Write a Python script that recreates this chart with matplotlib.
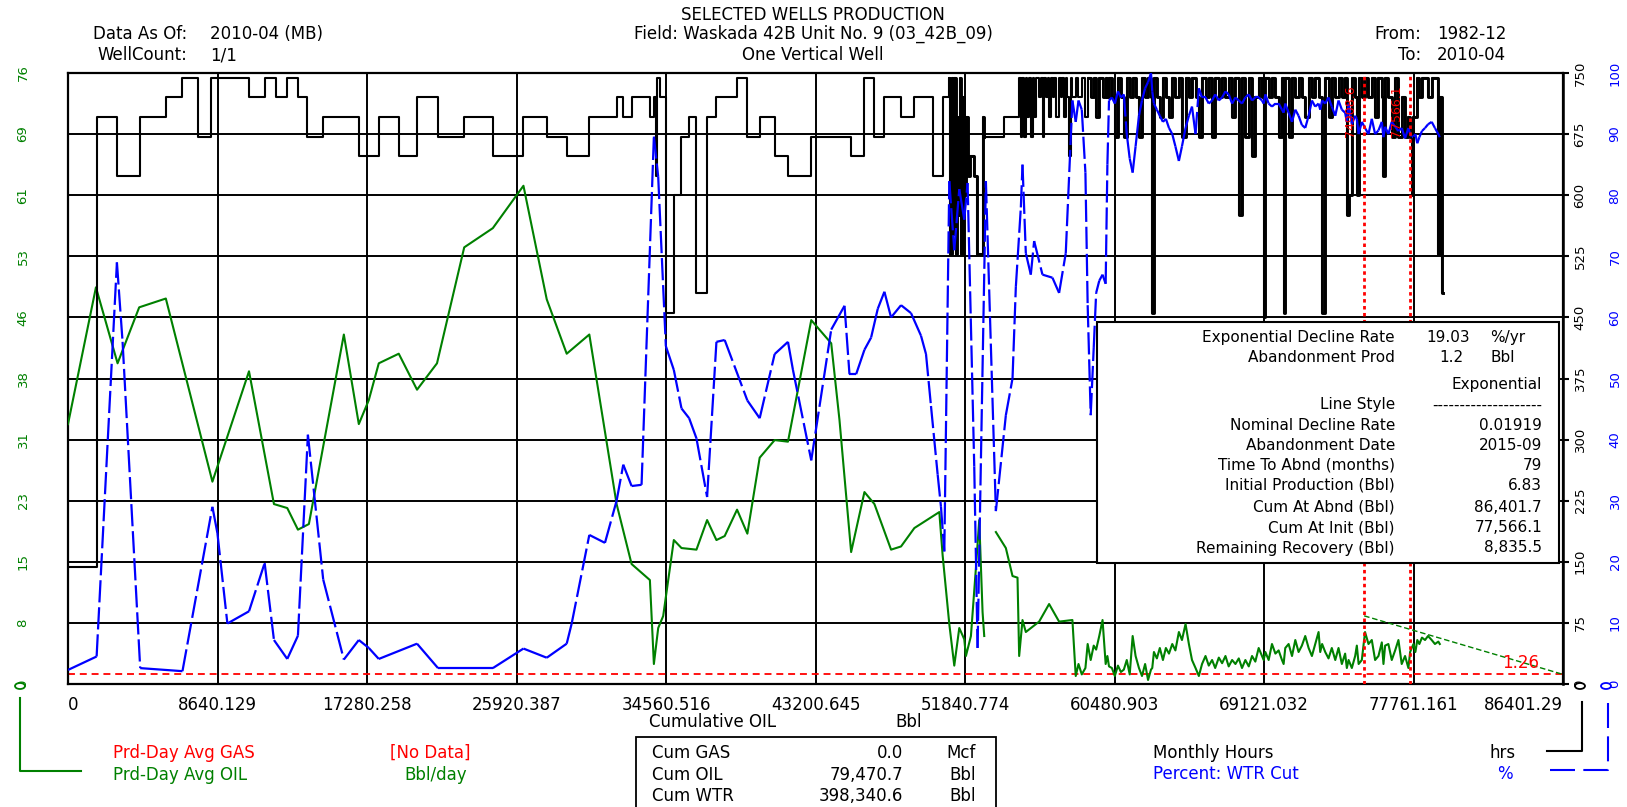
import numpy as np
import matplotlib
matplotlib.use("Agg")
import matplotlib.pyplot as plt
from matplotlib.collections import LineCollection
from matplotlib.patches import Rectangle, Ellipse
from matplotlib.lines import Line2D

plt.rcParams["font.family"] = ["DejaVu Sans"]
plt.rcParams["lines.scale_dashes"] = False

GREEN = "#008000"
BLUE = "#0000ff"
RED = "#ff0000"

# ---- axis ranges and tick labels ----
x_max = 86401.29
x_ticks = [0, 8640.129, 17280.258, 25920.387, 34560.516, 43200.645,
           51840.774, 60480.903, 69121.032, 77761.161, 86401.29]
x_labels = ["0", "8640.129", "17280.258", "25920.387", "34560.516", "43200.645",
            "51840.774", "60480.903", "69121.032", "77761.161", "86401.29"]
oil_max = 76.4
oil_labels = ["0", "8", "15", "23", "31", "38", "46", "53", "61", "69", "76"]
hrs_max = 750
hrs_labels = ["0", "75", "150", "225", "300", "375", "450", "525", "600", "675", "750"]
wcut_max = 100
wcut_labels = ["0", "10", "20", "30", "40", "50", "60", "70", "80", "90", "100"]

# ---- monthly hours (early / sparse part) ----
early_hrs_cum = [0, 1654, 2827, 4173, 5654, 6615, 7519, 8250, 10461, 11365,
                 11999, 12672, 13288, 13826, 14749, 16807, 17961, 19115, 20172, 21384,
                 22899, 24552, 26322, 27668, 28822, 30129, 31706, 32091, 32572, 33629,
                 33860, 33960, 34060, 34200, 34552, 35013, 35456, 35898, 36321, 36936,
                 37475, 38667, 39263, 39975, 40840, 41610, 42955, 45260, 46029, 46606,
                 47183, 48145, 48914, 49971, 50548, 50933, 51000, 51080, 51160, 51230,
                 51300, 51380, 51460, 51530, 51620, 51700, 51800, 51900, 52000, 52150,
                 52375, 52560, 52860, 52952, 54106, 54971, 55060, 55160, 55260, 55360,
                 55450, 55548, 55650, 55750, 55837, 55950, 56125, 56220, 56320, 56413,
                 56520, 56610, 56702, 56800, 56900, 56990, 57100, 57279, 57380, 57470,
                 57567, 57670, 57760, 57856, 57950, 58048]
early_hrs = [144, 696, 624, 696, 720, 744, 672, 744, 720, 744,
             720, 744, 720, 672, 696, 648, 696, 648, 720, 672,
             696, 648, 696, 672, 648, 696, 720, 696, 720, 696,
             720, 624, 744, 720, 456, 600, 672, 696, 480, 696,
             720, 744, 672, 696, 648, 624, 672, 648, 744, 672,
             720, 696, 720, 624, 720, 744, 528, 744, 552, 744,
             528, 696, 576, 744, 528, 720, 600, 696, 624, 648,
             624, 528, 696, 672, 696, 744, 672, 744, 672, 744,
             696, 744, 672, 744, 696, 744, 720, 744, 672, 744,
             720, 744, 696, 744, 720, 744, 696, 744, 720, 744,
             696, 744, 720, 648, 744, 720]

# ---- oil rate (early part), nan = month not drawn ----
early_oil_cum = [0, 1615, 2865, 4115, 5654, 8346, 10461, 11903, 12672, 13288,
                 13922, 15942, 16807, 17384, 17961, 19115, 20172, 21326, 22899, 24552,
                 26322, 27668, 28822, 30129, 31706, 32572, 33629, 33860, 34110, 34398,
                 35013, 35456, 36321, 36936, 37475, 37952, 38667, 39263, 39975, 40840,
                 41610, 42955, 44109, 44587, 45260, 46029, 46606, 47568, 48145, 48914,
                 50356, 50548, 50933, 51221, 51510, 51798, 51894, 52183, 52471, 52664,
                 52856, 52952, 53300, 53625, 54202, 54587, 54875, 54971, 55164, 55356,
                 56125, 56702, 57279, 58048]
early_oil = [32.5, 49.6, 40.1, 47.1, 48.2, 25.3, 39.1, 22.5, 22.0, 19.3,
             20.0, 43.7, 32.5, 35.5, 40.1, 41.3, 36.8, 40.1, 54.6, 57.0,
             62.3, 48.1, 41.3, 43.7, 22.5, 15.0, 13.0, 2.5, 7.0, 8.5,
             18.0, 17.0, 16.8, 20.5, 18.0, 18.5, 21.8, 18.8, 28.3, 30.5,
             30.3, 45.5, 42.6, 33.0, 16.5, 24.0, 22.5, 16.8, 17.2, 19.5,
             21.5, 16.1, 7.5, 2.3, 7.0, 5.6, 3.5, 6.0, 14.5, 20.5,
             9.0, 6.0, np.nan, 19.0, 17.0, 13.5, 13.3, 3.5, 8.0, 6.5,
             7.8, 10.0, 7.8, 8.0]

# ---- water cut (early part) ----
early_wcut_cum = [0, 1654, 2827, 3154, 4173, 6615, 8346, 8634, 9211, 10461,
                  11365, 11903, 12672, 13288, 13865, 14749, 15942, 16807, 17384, 17961,
                  20172, 21384, 24552, 26322, 27668, 28822, 29110, 30129, 31033, 31706,
                  32091, 32572, 33148, 33860, 34110, 34552, 35013, 35456, 35898, 36321,
                  36936, 37475, 37952, 39263, 39975, 40840, 41610, 41898, 42955, 44109,
                  44878, 45164, 45549, 46029, 46414, 46798, 47183, 47568, 48145, 48721,
                  49298, 49587, 49875, 50260, 50452, 50645, 50933, 51221, 51510, 51798,
                  51990, 52375, 52567, 53048, 53625, 54202, 54587, 54779, 55068, 55164,
                  55356, 55644, 55837, 56317, 56894, 57279, 57664, 58048]
early_wcut = [2.3, 4.5, 69.0, 56.0, 2.6, 2.1, 29.0, 24.7, 9.9, 11.9,
              19.8, 7.2, 4.1, 7.9, 40.8, 17.1, 4.0, 7.2, 5.9, 4.1,
              6.6, 2.6, 2.6, 5.8, 4.3, 6.6, 9.9, 24.4, 23.1, 30.0,
              35.9, 32.4, 32.6, 89.6, 83.0, 55.3, 51.4, 45.1, 43.5, 40.2,
              30.6, 56.0, 56.3, 46.4, 43.5, 54.0, 56.0, 51.4, 36.6, 58.0,
              61.9, 50.7, 50.7, 54.7, 56.7, 61.4, 64.2, 60.0, 62.0, 60.7,
              57.0, 54.0, 45.5, 34.3, 29.0, 21.7, 82.3, 71.0, 81.0, 76.0,
              82.0, 35.6, 5.9, 82.3, 28.3, 44.0, 50.0, 65.0, 78.0, 85.0,
              70.5, 67.0, 72.5, 67.0, 66.5, 64.0, 70.5, 95.5]

# ---- late months (dense part): cum oil, oil rate, water cut, hours ----
late_cum = [58240, 58400, 58590, 58800, 58930, 59105, 59280, 59420, 59600, 59790, 59970, 60070, 60164,
            60330, 60500, 60680, 60850, 61020, 61190, 61360, 61530, 61700, 61894, 62070, 62250,
            62420, 62590, 62663, 62760, 62930, 63100, 63280, 63450, 63630, 63820, 64000, 64202,
            64380, 64587, 64780, 64960, 65164, 65356, 65540, 65741, 65930, 66121, 66300, 66509,
            66700, 66894, 67080, 67278, 67470, 67663,
            67850, 68044, 68240, 68430, 68620, 68813, 69006, 69102, 69200, 69390, 69582, 69780,
            69967, 70160, 70255, 70350, 70544, 70740, 70930, 71120, 71310, 71505, 71700, 71890,
            72080, 72275, 72371,
            72480, 72659, 72850, 73040, 73240, 73428, 73620, 73810, 73909, 74010, 74198, 74390,
            74486, 74590, 74775, 74960, 75160, 75351, 75543, 75736, 75930, 76025, 76121, 76310,
            76505, 76700, 76890, 77080, 77274, 77466, 77566, 77659,
            77760, 77870, 77980, 78100, 78250, 78428, 78600, 78813, 79000, 79197, 79280, 79380, 79470]
late_oil = [1.0, 2.5, 1.2, 2.0, 5.0, 3.0, 4.8, 4.3, 6.0, 8.0, 2.5, 3.5, 2.2,
            2.0, 1.0, 2.3, 1.5, 1.8, 3.0, 1.2, 6.0, 3.5, 2.0, 1.0, 2.5,
            0.5, 1.8, 2.0, 4.0, 3.2, 4.5, 3.0, 4.5, 3.8, 5.0, 4.2, 6.5,
            5.5, 7.5, 5.0, 3.0, 2.0, 1.0, 2.5, 3.5, 2.3, 3.0, 2.0, 3.3,
            2.6, 3.5, 2.2, 3.0, 2.5, 3.2,
            2.0, 3.0, 2.2, 3.5, 2.8, 4.5, 3.5, 3.0, 4.0, 3.0, 5.0, 3.8,
            4.2, 3.0, 2.5, 4.5, 5.0, 3.5, 5.5, 4.0, 4.8, 6.0, 4.5, 3.5,
            5.0, 6.5, 4.0,
            5.0, 4.0, 3.2, 4.5, 3.0, 4.5, 2.5, 3.8, 2.0, 3.0, 2.0, 3.5,
            4.8, 2.5, 3.0, 6.5, 5.0, 5.5, 3.0, 3.5, 5.2, 2.5, 4.8, 5.0,
            3.0, 4.2, 5.5, 2.5, 3.5, 2.0, 4.0, 4.5,
            5.0, 4.0, 5.5, 5.0, 5.8, 5.5, 6.0, 5.5, 5.0, 5.3, 5.0, np.nan, np.nan]
late_wcut = [92.0, 95.5, 94.0, 83.7, 62.0, 44.0, 55.0, 64.0, 66.0, 67.0, 65.5, 85.0, 95.5,
             96.0, 95.0, 97.0, 96.0, 96.5, 90.0, 86.0, 83.7, 88.0, 93.0, 95.5, 97.5,
             98.5, 100.0, 97.0, 95.0, 94.0, 93.0, 92.0, 92.5, 91.0, 90.0, 88.0, 85.6,
             88.0, 91.0, 93.0, 94.5, 90.0, 97.5, 96.0, 96.0, 95.0, 95.5, 96.5, 95.5,
             96.0, 97.0, 96.5, 95.0, 96.0, 95.5,
             95.0, 96.0, 96.5, 95.5, 96.0, 96.0, 95.5, 95.0, 96.5, 95.0, 94.5, 95.0,
             95.0, 94.0, 93.5, 95.0, 93.5, 92.0, 94.0, 93.0, 91.5, 91.0, 93.0, 95.5,
             94.5, 95.0, 94.0,
             95.5, 95.0, 96.0, 94.5, 93.0, 95.5, 94.0, 93.5, 92.0, 95.0, 91.6, 93.0,
             92.5, 90.0, 92.0, 91.0, 90.0, 92.5, 90.0, 90.6, 92.0, 89.5, 91.2, 90.0,
             92.0, 91.2, 90.5, 91.0, 89.3, 91.0, 90.0, 89.6,
             89.6, 90.0, 88.5, 89.5, 90.5, 91.0, 91.6, 92.0, 91.0, 90.0, 89.5, np.nan, np.nan]
late_hrs = [744, 720, 744, 696, 744, 720, 744, 696, 744, 720, 744, 720, 744,
            720, 672, 744, 720, 672, 744, 720, 744, 720, 672, 744, 720,
            744, 720, 456, 744, 720, 696, 744, 720, 696, 744, 720, 744,
            672, 744, 720, 744, 720, 672, 744, 720, 744, 672, 744, 720,
            744, 720, 744, 696, 744, 576,
            744, 672, 744, 648, 720, 744, 720, 450, 744, 720, 744, 720,
            672, 744, 456, 744, 672, 744, 720, 744, 720, 696, 744, 720,
            744, 720, 720,
            456, 744, 696, 744, 720, 744, 720, 744, 576, 600, 744, 720,
            600, 744, 720, 744, 720, 744, 696, 744, 720, 624, 744, 720,
            672, 744, 672, 720, 672, 696, 672, 600,
            696, 696, 744, 720, 744, 744, 720, 744, 744, 528, 720, 480, 480]

# ---- decline analysis (from the results box) ----
decline_start = 74908.6
cum_init = 77566.1
cum_abnd = 86401.7
q_init = 6.83
q_abnd = 1.2
marker_cums = [74908.6, 77566.1]
marker_labels = ["74908.6", "77566.1"]

box_labels = ["Exponential Decline Rate", "Abandonment Prod", "", "Line Style",
              "Nominal Decline Rate", "Abandonment Date", "Time To Abnd (months)",
              "Initial Production (Bbl)", "Cum At Abnd (Bbl)", "Cum At Init (Bbl)",
              "Remaining Recovery (Bbl)"]
box_values = ["", "", "Exponential", "--------------------", "0.01919", "2015-09", "79",
              "6.83", "86,401.7", "77,566.1", "8,835.5"]

W, H = 1627, 807
FS = 12
BOX_FS = 11


def px(x, y):
    return x / W, 1 - y / H


def ftext(x, y, s, **kw):
    kw.setdefault("fontsize", FS)
    kw.setdefault("va", "center")
    fig.text(*px(x, y), s, **kw)


def fline(xs, ys, **kw):
    fx = [x / W for x in xs]
    fy = [1 - y / H for y in ys]
    fig.add_artist(Line2D(fx, fy, transform=fig.transFigure, **kw))


def fmark(x, y, color):
    fig.add_artist(Ellipse(px(x, y), 10 / W, 6 / H, transform=fig.transFigure,
                           facecolor="white", edgecolor=color, lw=1.3))


fig = plt.figure(figsize=(16.27, 8.07), dpi=100)
ax = fig.add_axes([68 / W, 1 - 684 / H, (1563 - 68) / W, (684 - 73) / H])
ax_h = ax.twinx()
ax_w = ax.twinx()

ax.set_xlim(0, x_max)
ax.set_ylim(0, oil_max)
ax_h.set_ylim(0, hrs_max)
ax_w.set_ylim(0, wcut_max)

# grid
ax.set_xticks(x_ticks)
ax.set_xticklabels(x_labels, fontsize=FS)
ax.set_yticks(np.linspace(0, oil_max, 11))
ax.set_yticklabels([])
ax.grid(True, color="black", lw=1.4)
ax.tick_params(length=0)
ax.tick_params(axis="x", pad=9)
xl = ax.get_xticklabels()
xl[0].set_ha("left")
xl[-1].set_ha("right")
for s in ax.spines.values():
    s.set_linewidth(1.6)

ax_h.set_yticks(np.linspace(0, hrs_max, 11))
ax_h.tick_params(axis="y", direction="out", length=4, width=1.5, labelright=False)
for side in ["left", "top", "bottom"]:
    ax_h.spines[side].set_visible(False)
ax_h.spines["right"].set_linewidth(1.8)
ax_w.axis("off")

# tick labels, rotated, outside the frame
for v, lab in zip(np.linspace(0, oil_max, 11), oil_labels):
    ax.text(-0.0301, v, lab, transform=ax.get_yaxis_transform(), rotation=90,
            ha="center", va="center", color=GREEN, fontsize=9.5)
for v, lab in zip(np.linspace(0, hrs_max, 11), hrs_labels):
    ax_h.text(1.0114, v, lab, transform=ax_h.get_yaxis_transform(), rotation=90,
              ha="center", va="center", color="black", fontsize=9.5)
for v, lab in zip(np.linspace(0, wcut_max, 11), wcut_labels):
    ax_w.text(1.0348, v, lab, transform=ax_w.get_yaxis_transform(), rotation=90,
              ha="center", va="center", color=BLUE, fontsize=9.5)

# oil rate + decline
oil_cum = early_oil_cum + late_cum
oil_rate = early_oil + late_oil
ax.plot(oil_cum, oil_rate, color=GREEN, lw=1.5, zorder=3)
q_start = q_init + (q_init - q_abnd) / (cum_abnd - cum_init) * (cum_init - decline_start)
ax.plot([decline_start, cum_abnd], [q_start, q_abnd], color=GREEN, lw=1.0,
        ls=(0, (4, 2)), zorder=3)
ax.axhline(q_abnd, color=RED, lw=1.3, ls=(0, (5, 3.5)), zorder=2.5)
ax.text(83950, 2.6, "1.26", color=RED, fontsize=12, ha="center", va="center")

# monthly hours; the crowded months later on get a heavier pen
hrs_cum = early_hrs_cum + late_cum
hrs_val = early_hrs + late_hrs
ax_h.step(hrs_cum, hrs_val, where="post", color="black", lw=1.5)
for lo, hi in [(50933, 52952), (58930, 80000)]:
    idx = [i for i, c in enumerate(hrs_cum) if lo <= c <= hi]
    ax_h.step([hrs_cum[i] for i in idx], [hrs_val[i] for i in idx],
              where="post", color="black", lw=2.1)

# water cut: steep jumps drawn dashed
wc_x = early_wcut_cum + late_cum
wc_y = early_wcut + late_wcut
solid, dashed = [], []
for i in range(len(wc_x) - 1):
    y0, y1 = wc_y[i], wc_y[i + 1]
    if np.isnan(y0) or np.isnan(y1):
        continue
    seg = [(wc_x[i], y0), (wc_x[i + 1], y1)]
    (dashed if abs(y1 - y0) > 5 else solid).append(seg)
ax_w.add_collection(LineCollection(solid, colors=BLUE, linewidths=1.6))
ax_w.add_collection(LineCollection(dashed, colors=BLUE, linewidths=1.6,
                                   linestyles=[(0, (16, 3.5))]))

# decline markers
for c, lab in zip(marker_cums, marker_labels):
    ax_w.axvline(c, color=RED, lw=2.0, ls=(0, (2.5, 2.5)))
    ax_w.annotate(lab, xy=(c, 1), xycoords=("data", "axes fraction"),
                  xytext=(-10, -9), textcoords="offset points", rotation=90,
                  ha="center", va="top", color=RED, fontsize=9)

# ---- header ----
ftext(813, 15, "SELECTED WELLS PRODUCTION", ha="center")
ftext(187, 34, "Data As Of:", ha="right")
ftext(210, 34, "2010-04 (MB)", ha="left")
ftext(187, 55, "WellCount:", ha="right")
ftext(210, 55, "1/1", ha="left")
ftext(813, 34, "Field: Waskada 42B Unit No. 9 (03_42B_09)", ha="center")
ftext(813, 55, "One Vertical Well", ha="center")
ftext(1421, 34, "From:", ha="right")
ftext(1437, 34, "1982-12", ha="left")
ftext(1421, 55, "To:", ha="right")
ftext(1437, 55, "2010-04", ha="left")

# ---- results box ----
fig.add_artist(Rectangle(px(1097, 563), (1559 - 1097) / W, (563 - 322) / H,
                         transform=fig.transFigure, facecolor="white",
                         edgecolor="black", lw=1.5, zorder=5))
row_y = [337, 358, 384, 405, 425, 445, 465, 485, 507, 528, 548]
for y, lab, val in zip(row_y, box_labels, box_values):
    if lab:
        ftext(1395, y, lab, ha="right", fontsize=BOX_FS, zorder=6)
    if val:
        ftext(1542, y, val, ha="right", fontsize=BOX_FS, zorder=6)
ftext(1470, row_y[0], "19.03", ha="right", fontsize=BOX_FS, zorder=6)
ftext(1490, row_y[0], "%/yr", ha="left", fontsize=BOX_FS, zorder=6)
ftext(1463, row_y[1], "1.2", ha="right", fontsize=BOX_FS, zorder=6)
ftext(1490, row_y[1], "Bbl", ha="left", fontsize=BOX_FS, zorder=6)

# ---- footer ----
ftext(649, 722, "Cumulative OIL", ha="left")
ftext(895, 722, "Bbl", ha="left")

ftext(113, 753, "Prd-Day Avg GAS", ha="left", color=RED)
ftext(471, 753, "[No Data]", ha="right", color=RED)
ftext(113, 775, "Prd-Day Avg OIL", ha="left", color=GREEN)
ftext(467, 775, "Bbl/day", ha="right", color=GREEN)
fline([20, 20, 81], [698, 771, 771], color=GREEN, lw=1.5)
fmark(20, 686, GREEN)

fig.add_artist(Rectangle(px(636, 812), (996 - 636) / W, (812 - 737) / H,
                         transform=fig.transFigure, facecolor="white",
                         edgecolor="black", lw=1.3, zorder=5))
cum_names = ["Cum GAS", "Cum OIL", "Cum WTR"]
cum_values = ["0.0", "79,470.7", "398,340.6"]
cum_units = ["Mcf", "Bbl", "Bbl"]
for y, n, v, u in zip([753, 775, 796], cum_names, cum_values, cum_units):
    ftext(652, y, n, ha="left", zorder=6)
    ftext(903, y, v, ha="right", zorder=6)
    ftext(976, y, u, ha="right", zorder=6)

ftext(1153, 753, "Monthly Hours", ha="left")
ftext(1516, 753, "hrs", ha="right")
ftext(1153, 774, "Percent: WTR Cut", ha="left", color=BLUE)
ftext(1513, 774, "%", ha="right", color=BLUE)
fline([1547, 1582, 1582], [751, 751, 702], color="black", lw=1.5)
fmark(1580, 686, "black")
fline([1550, 1608, 1608], [770, 770, 700], color=BLUE, lw=1.5, ls=(0, (18, 6)))
fmark(1606, 686, BLUE)

fig.savefig("out.png", dpi=100)
